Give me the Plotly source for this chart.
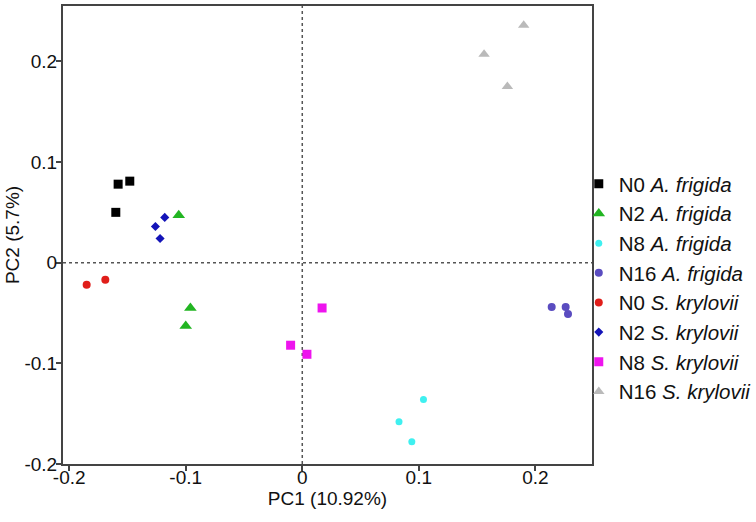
import plotly.graph_objects as go

# Group labels
groups = ["N0 A. frigida", "N2 A. frigida", "N8 A. frigida", "N16 A. frigida",
          "N0 S. krylovii", "N2 S. krylovii", "N8 S. krylovii", "N16 S. krylovii"]
legend_names = ["N0 <i>A. frigida</i>", "N2 <i>A. frigida</i>", "N8 <i>A. frigida</i>",
                "N16 <i>A. frigida</i>", "N0 <i>S. krylovii</i>", "N2 <i>S. krylovii</i>",
                "N8 <i>S. krylovii</i>", "N16 <i>S. krylovii</i>"]

# PC1 / PC2 scores per group
n0_af_x = [-0.158, -0.148, -0.160]
n0_af_y = [0.078, 0.081, 0.050]
n2_af_x = [-0.106, -0.096, -0.100]
n2_af_y = [0.047, -0.045, -0.063]
n8_af_x = [0.104, 0.083, 0.094]
n8_af_y = [-0.136, -0.158, -0.178]
n16_af_x = [0.214, 0.226, 0.228]
n16_af_y = [-0.044, -0.044, -0.051]
n0_sk_x = [-0.185, -0.169]
n0_sk_y = [-0.022, -0.017]
n2_sk_x = [-0.118, -0.126, -0.122]
n2_sk_y = [0.045, 0.036, 0.024]
n8_sk_x = [0.017, -0.010, 0.004]
n8_sk_y = [-0.045, -0.082, -0.091]
n16_sk_x = [0.190, 0.156, 0.176]
n16_sk_y = [0.236, 0.207, 0.175]

x_ticks = [-0.2, -0.1, 0, 0.1, 0.2]
y_ticks = [-0.2, -0.1, 0, 0.1, 0.2]
x_tick_text = ["-0.2", "-0.1", "0", "0.1", "0.2"]
y_tick_text = ["-0.2", "-0.1", "0", "0.1", "0.2"]

xs = [n0_af_x, n2_af_x, n8_af_x, n16_af_x, n0_sk_x, n2_sk_x, n8_sk_x, n16_sk_x]
ys = [n0_af_y, n2_af_y, n8_af_y, n16_af_y, n0_sk_y, n2_sk_y, n8_sk_y, n16_sk_y]

colors = ["#000000", "#22b522", "#3ff0f0", "#5a4cc0", "#e01e1a", "#1414b8", "#ee14ee", "#bababa"]
symbols = ["square", "triangle-up", "circle", "circle", "circle", "diamond", "square", "triangle-up"]
sizes = [9, 11, 7, 8, 8, 7, 9, 10]

fig = go.Figure()
for xv, yv, name, c, s, sz in zip(xs, ys, legend_names, colors, symbols, sizes):
    fig.add_trace(go.Scatter(x=xv, y=yv, mode="markers", name=name,
                             marker=dict(color=c, symbol=s, size=sz, line=dict(width=0))))

fig.add_shape(type="line", x0=0, x1=0, y0=0, y1=1, xref="x", yref="paper",
              line=dict(color="#555555", width=1.5, dash="dot"), layer="below")
fig.add_shape(type="line", x0=0, x1=1, y0=0, y1=0, xref="paper", yref="y",
              line=dict(color="#555555", width=1.5, dash="dot"), layer="below")

font_family = "Liberation Sans, Arial, sans-serif"
fig.update_layout(
    width=756, height=522,
    margin=dict(l=63, r=164, t=6, b=58, autoexpand=False),
    plot_bgcolor="white", paper_bgcolor="white",
    font=dict(family=font_family, size=19, color="#111111"),
    showlegend=True,
    legend=dict(x=0.975, y=0.655, xanchor="left", yanchor="top",
                font=dict(size=20.5, color="#111111"), itemsizing="trace",
                bgcolor="rgba(0,0,0,0)", itemwidth=30, tracegroupgap=0),
    xaxis=dict(range=[-0.2053, 0.2486], tickvals=x_ticks, ticktext=x_tick_text,
               showgrid=False, zeroline=False, showline=True, linecolor="#444444",
               linewidth=2, mirror=True, ticks="outside", ticklen=5, tickwidth=1.5,
               tickcolor="#444444", automargin=False, tickfont=dict(size=19),
               ticklabelstandoff=-10,
               title=dict(text="PC1 (10.92%)", font=dict(size=19), standoff=4)),
    yaxis=dict(range=[-0.2, 0.255], tickvals=y_ticks, ticktext=y_tick_text,
               showgrid=False, zeroline=False, showline=True, linecolor="#444444",
               linewidth=2, mirror=True, ticks="outside", ticklen=5, tickwidth=1.5,
               tickcolor="#444444", automargin=False, tickfont=dict(size=19),
               ticklabelstandoff=-5,
               title=dict(text="PC2 (5.7%)", font=dict(size=19), standoff=0)),
)

fig.write_html("out.html", config={"displayModeBar": False},
               post_script="document.body.style.margin='0px';")
